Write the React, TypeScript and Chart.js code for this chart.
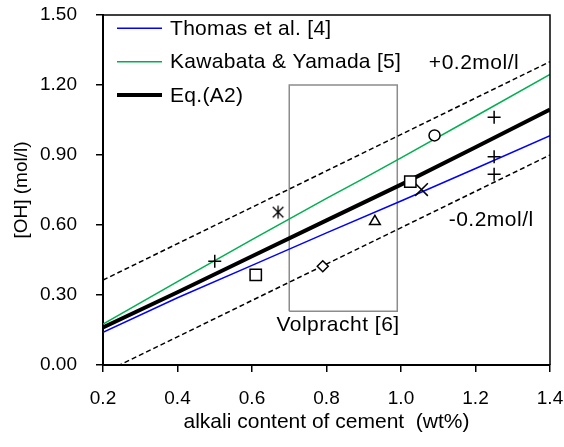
import { useEffect, useRef } from "react";
import { Chart, registerables } from "chart.js";

Chart.register(...registerables);

// ---- data ----
const xTickValues = [0.2, 0.4, 0.6, 0.8, 1.0, 1.2, 1.4];
const yTickValues = [0, 0.3, 0.6, 0.9, 1.2, 1.5];

const thomasX = [0.2, 0.4, 0.6, 0.8, 1.0, 1.2, 1.4];
const thomasY = [0.14, 0.288, 0.427, 0.566, 0.703, 0.842, 0.983];

const kawabataX = [0.2, 0.4, 0.6, 0.8, 0.9, 1.0, 1.2, 1.4];
const kawabataY = [0.175, 0.357, 0.537, 0.714, 0.8, 0.888, 1.066, 1.245];

const eqA2X = [0.2, 0.4, 0.6, 0.8, 1.0, 1.2, 1.4];
const eqA2Y = [0.161, 0.312, 0.466, 0.62, 0.773, 0.933, 1.095];

const upperBandX = [0.2, 1.4];
const upperBandY = [0.364, 1.3];
const lowerBandX = [0.2, 1.4];
const lowerBandY = [-0.035, 0.9];

const volprachtBoxX = [0.7, 0.7, 0.99, 0.99, 0.7];
const volprachtBoxY = [0.23, 1.2, 1.2, 0.23, 0.23];

const plusX = [0.5, 1.25, 1.25, 1.25];
const plusY = [0.445, 1.062, 0.893, 0.817];
const squareX = [0.61, 1.025];
const squareY = [0.386, 0.786];
const starX = [0.67];
const starY = [0.655];
const diamondX = [0.79];
const diamondY = [0.423];
const triangleX = [0.93];
const triangleY = [0.615];
const crossX = [1.055];
const crossY = [0.752];
const circleX = [1.09];
const circleY = [0.984];

const seriesLabels = ["Thomas et al. [4]", "Kawabata & Yamada [5]", "Eq.(A2)"];
const noteTexts = ["+0.2mol/l", "-0.2mol/l", "Volpracht [6]"];
const xTitle = "alkali content of cement  (wt%)";
const yTitle = "[OH] (mol/l)";

const FONT = "'Liberation Sans', Arial, sans-serif";

const pts = (xs: number[], ys: number[]) => xs.map((x, i) => ({ x, y: ys[i] }));

function makeAsterisk(): HTMLCanvasElement {
  const c = document.createElement("canvas");
  c.width = 16;
  c.height = 16;
  const g = c.getContext("2d")!;
  g.strokeStyle = "#000";
  g.lineWidth = 1.3;
  const cx = 8, cy = 8, r = 6.5, d = 5.3;
  g.beginPath();
  g.moveTo(cx, cy - r);
  g.lineTo(cx, cy + r);
  g.moveTo(cx - d, cy - d);
  g.lineTo(cx + d, cy + d);
  g.moveTo(cx + d, cy - d);
  g.lineTo(cx - d, cy + d);
  g.stroke();
  return c;
}

const legendPlugin = {
  id: "insideLegend",
  afterDatasetsDraw(chart: any) {
    const { ctx, chartArea } = chart;
    ctx.save();
    ctx.font = `21px ${FONT}`;
    (ctx as any).letterSpacing = "0.3px";
    ctx.textBaseline = "middle";
    ctx.textAlign = "left";
    ctx.fillStyle = "#000";
    for (let i = 0; i < 3; i++) {
      const ds = chart.data.datasets[i];
      const y = chartArea.top + 13.3 + i * 33.4;
      ctx.beginPath();
      ctx.strokeStyle = ds.borderColor;
      ctx.lineWidth = ds.borderWidth;
      ctx.setLineDash([]);
      ctx.moveTo(chartArea.left + 14, y);
      ctx.lineTo(chartArea.left + 59, y);
      ctx.stroke();
      ctx.fillText(ds.label, chartArea.left + 67, y + 1);
    }
    ctx.restore();
  },
};

const notesPlugin = {
  id: "notes",
  afterDatasetsDraw(chart: any) {
    const { ctx } = chart;
    const xs = chart.scales.x;
    const ys = chart.scales.y;
    const anchors = [
      [1.196, 1.294],
      [1.242, 0.621],
      [0.831, 0.171],
    ];
    ctx.save();
    ctx.font = `21px ${FONT}`;
    (ctx as any).letterSpacing = "0.5px";
    ctx.textBaseline = "middle";
    ctx.textAlign = "center";
    ctx.fillStyle = "#000";
    noteTexts.forEach((t, i) => {
      ctx.fillText(t, xs.getPixelForValue(anchors[i][0]), ys.getPixelForValue(anchors[i][1]));
    });
    ctx.restore();
  },
};

const framePlugin = {
  id: "frame",
  afterDraw(chart: any) {
    const { ctx, chartArea } = chart;
    ctx.save();
    ctx.strokeStyle = "#000";
    ctx.lineWidth = 1.5;
    ctx.setLineDash([]);
    ctx.beginPath();
    ctx.moveTo(chartArea.left, chartArea.top);
    ctx.lineTo(chartArea.right, chartArea.top);
    ctx.lineTo(chartArea.right, chartArea.bottom);
    ctx.stroke();
    ctx.restore();
  },
};

export default function App() {
  const ref = useRef<HTMLCanvasElement>(null);

  useEffect(() => {
    if (!ref.current) return;
    const asterisk = makeAsterisk();
    const lineDs = (label: string, xs: number[], ys: number[], color: string, width: number, dash: number[] = []) => ({
      label,
      data: pts(xs, ys),
      showLine: true,
      borderColor: color,
      backgroundColor: color,
      borderWidth: width,
      borderDash: dash,
      pointRadius: 0,
      tension: 0,
      order: 1,
    });
    const markerDs = (label: string, xs: number[], ys: number[], style: any, radius: number) => ({
      label,
      data: pts(xs, ys),
      showLine: false,
      pointStyle: style,
      pointRadius: radius,
      pointBorderColor: "#000",
      pointBackgroundColor: "#fff",
      pointBorderWidth: 1.5,
      borderColor: "#000",
      backgroundColor: "#fff",
      order: 0,
    });

    const chart = new Chart(ref.current, {
      type: "scatter",
      data: {
        datasets: [
          lineDs(seriesLabels[0], thomasX, thomasY, "#0000ff", 1.5),
          lineDs(seriesLabels[1], kawabataX, kawabataY, "#00b050", 1.5),
          lineDs(seriesLabels[2], eqA2X, eqA2Y, "#000000", 4),
          lineDs("+0.2", upperBandX, upperBandY, "#000000", 1.5, [5, 3]),
          lineDs("-0.2", lowerBandX, lowerBandY, "#000000", 1.5, [5, 3]),
          { ...lineDs("Volpracht box", volprachtBoxX, volprachtBoxY, "#8c8c8c", 1.5), order: 2 },
          markerDs("plus", plusX, plusY, "cross", 6.5),
          markerDs("square", squareX, squareY, "rect", 8),
          markerDs("star", starX, starY, asterisk, 7),
          markerDs("diamond", diamondX, diamondY, "rectRot", 5.5),
          markerDs("triangle", triangleX, triangleY, "triangle", 6.2),
          markerDs("cross", crossX, crossY, "crossRot", 9),
          markerDs("circle", circleX, circleY, "circle", 5.5),
        ] as any,
      },
      options: {
        animation: false,
        responsive: true,
        maintainAspectRatio: false,
        events: [],
        layout: { padding: { left: 0, right: 14, top: 15, bottom: 0 } },
        plugins: {
          legend: { display: false },
          tooltip: { enabled: false },
        },
        scales: {
          x: {
            type: "linear",
            min: 0.2,
            max: 1.4,
            afterBuildTicks: (axis: any) => {
              axis.ticks = xTickValues.map((v) => ({ value: v }));
            },
            afterFit: (s: any) => {
              s.height = 82;
              s.paddingLeft = 0;
              s.paddingRight = 0;
            },
            ticks: {
              padding: 15,
              color: "#000",
              font: { size: 19, family: FONT },
              callback: (v: any) => Number(v).toFixed(1),
            },
            grid: {
              drawOnChartArea: false,
              drawTicks: true,
              tickLength: 7,
              color: "#000",
              lineWidth: 1.5,
            },
            border: { display: true, color: "#000", width: 2 },
            title: {
              display: true,
              text: xTitle,
              color: "#000",
              font: { size: 21, family: FONT },
              padding: { top: 0, bottom: 12 },
            },
          },
          y: {
            type: "linear",
            min: 0,
            max: 1.5,
            afterBuildTicks: (axis: any) => {
              axis.ticks = yTickValues.map((v) => ({ value: v }));
            },
            afterFit: (s: any) => {
              s.width = 103;
              s.paddingTop = 0;
              s.paddingBottom = 0;
            },
            ticks: {
              padding: 19,
              color: "#000",
              font: { size: 19, family: FONT },
              callback: (v: any) => Number(v).toFixed(2),
            },
            grid: {
              drawOnChartArea: false,
              drawTicks: true,
              tickLength: 7,
              color: "#000",
              lineWidth: 1.5,
            },
            border: { display: true, color: "#000", width: 2 },
            title: {
              display: true,
              text: yTitle,
              color: "#000",
              font: { size: 19, family: FONT },
              padding: { top: 10, bottom: 0 },
            },
          },
        },
      } as any,
      plugins: [legendPlugin, notesPlugin, framePlugin] as any,
    });
    return () => chart.destroy();
  }, []);

  return (
    <div style={{ position: "fixed", left: 0, top: 0, width: 564, height: 447, background: "#fff" }}>
      <canvas ref={ref} />
    </div>
  );
}
